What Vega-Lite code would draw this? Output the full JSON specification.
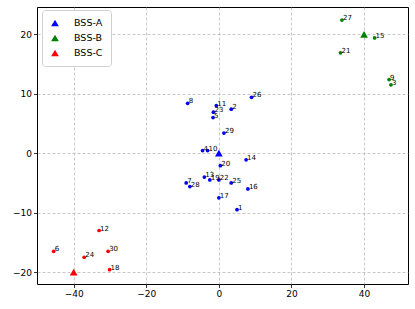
{
  "$schema": "https://vega.github.io/schema/vega-lite/v6.json",
  "width": 371,
  "height": 277,
  "autosize": {"type": "none"},
  "padding": {"left": 37, "top": 7, "right": 7, "bottom": 25},
  "background": "white",
  "config": {
    "view": {"stroke": "black", "strokeWidth": 1},
    "font": "DejaVu Sans",
    "axis": {
      "domain": false,
      "grid": true,
      "gridColor": "#b0b0b0",
      "gridDash": [3, 2],
      "gridWidth": 0.7,
      "tickColor": "black",
      "tickSize": 3.5,
      "tickWidth": 0.8,
      "labelFont": "DejaVu Sans",
      "labelFontSize": 9,
      "labelColor": "black",
      "labelPadding": 2,
      "title": null
    }
  },
  "resolve": {"legend": {"color": "independent"}},
  "datasets": {
    "stations": [
      {"id": "1", "x": 5.0, "y": -9.5, "bss": "BSS-A"},
      {"id": "2", "x": 3.4, "y": 7.4, "bss": "BSS-A"},
      {"id": "4", "x": -4.5, "y": 0.45, "bss": "BSS-A"},
      {"id": "5", "x": -1.6, "y": 6.0, "bss": "BSS-A"},
      {"id": "7", "x": -9.0, "y": -5.0, "bss": "BSS-A"},
      {"id": "8", "x": -8.6, "y": 8.4, "bss": "BSS-A"},
      {"id": "10", "x": -3.1, "y": 0.45, "bss": "BSS-A"},
      {"id": "11", "x": -0.7, "y": 8.0, "bss": "BSS-A"},
      {"id": "13", "x": -4.0, "y": -4.0, "bss": "BSS-A"},
      {"id": "14", "x": 7.5, "y": -1.1, "bss": "BSS-A"},
      {"id": "16", "x": 8.0, "y": -6.0, "bss": "BSS-A"},
      {"id": "17", "x": 0.0, "y": -7.5, "bss": "BSS-A"},
      {"id": "19", "x": -2.5, "y": -4.5, "bss": "BSS-A"},
      {"id": "20", "x": 0.4, "y": -2.1, "bss": "BSS-A"},
      {"id": "22", "x": 0.0, "y": -4.5, "bss": "BSS-A"},
      {"id": "23", "x": -1.5, "y": 6.9, "bss": "BSS-A"},
      {"id": "25", "x": 3.4, "y": -5.0, "bss": "BSS-A"},
      {"id": "26", "x": 9.0, "y": 9.4, "bss": "BSS-A"},
      {"id": "28", "x": -8.0, "y": -5.6, "bss": "BSS-A"},
      {"id": "29", "x": 1.4, "y": 3.4, "bss": "BSS-A"},
      {"id": "3", "x": 47.4, "y": 11.5, "bss": "BSS-B"},
      {"id": "9", "x": 46.9, "y": 12.4, "bss": "BSS-B"},
      {"id": "15", "x": 42.9, "y": 19.4, "bss": "BSS-B"},
      {"id": "21", "x": 33.5, "y": 16.9, "bss": "BSS-B"},
      {"id": "27", "x": 33.9, "y": 22.4, "bss": "BSS-B"},
      {"id": "6", "x": -45.5, "y": -16.5, "bss": "BSS-C"},
      {"id": "12", "x": -33.0, "y": -13.0, "bss": "BSS-C"},
      {"id": "18", "x": -30.1, "y": -19.6, "bss": "BSS-C"},
      {"id": "24", "x": -37.1, "y": -17.5, "bss": "BSS-C"},
      {"id": "30", "x": -30.5, "y": -16.5, "bss": "BSS-C"}
    ],
    "aps": [
      {"bss": "BSS-A", "x": 0, "y": 0},
      {"bss": "BSS-B", "x": 40, "y": 20},
      {"bss": "BSS-C", "x": -40, "y": -20}
    ]
  },
  "encoding": {
    "x": {
      "field": "x", "type": "quantitative",
      "scale": {"domain": [-50.1, 52.1], "nice": false, "zero": false},
      "axis": {"values": [-40, -20, 0, 20, 40], "labelExpr": "replace(datum.label, '-', '−')"}
    },
    "y": {
      "field": "y", "type": "quantitative",
      "scale": {"domain": [-22.0, 24.6], "nice": false, "zero": false},
      "axis": {"values": [-20, -10, 0, 10, 20], "labelExpr": "replace(datum.label, '-', '−')"}
    }
  },
  "layer": [
    {
      "data": {"name": "stations"},
      "mark": {"type": "circle", "size": 14, "opacity": 1},
      "encoding": {
        "color": {"field": "bss", "type": "nominal", "scale": {"domain": ["BSS-A", "BSS-B", "BSS-C"], "range": ["#0000ff", "#008000", "#ff0000"]}, "legend": null}
      }
    },
    {
      "data": {"name": "stations"},
      "mark": {"type": "text", "align": "left", "baseline": "alphabetic", "dx": 1, "dy": 0, "fontSize": 7, "color": "black"},
      "encoding": {"text": {"field": "id", "type": "nominal"}}
    },
    {
      "data": {"name": "aps"},
      "mark": {"type": "point", "shape": "triangle-up", "filled": true, "size": 60, "opacity": 1},
      "encoding": {
        "color": {
          "field": "bss", "type": "nominal",
          "scale": {"domain": ["BSS-A", "BSS-B", "BSS-C"], "range": ["#0000ff", "#008000", "#ff0000"]},
          "legend": {
            "title": null,
            "orient": "none",
            "legendX": 5,
            "legendY": 3,
            "symbolType": "triangle-up",
            "symbolSize": 60,
            "symbolOpacity": 1,
            "labelFontSize": 9.5,
            "labelFont": "DejaVu Sans",
            "labelColor": "black",
            "labelOffset": 14,
            "rowPadding": 5,
            "padding": 8,
            "strokeColor": "#d0d0d0",
            "fillColor": "white",
            "cornerRadius": 3
          }
        }
      }
    }
  ]
}
